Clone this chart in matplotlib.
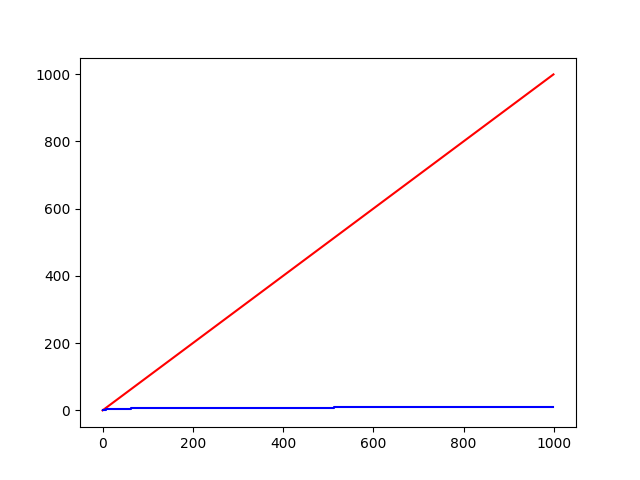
import matplotlib
matplotlib.use("Agg")
import matplotlib.pyplot as plt

# linear series
red_x = [0, 999]
red_y = [0, 999]

# step series (value changes at powers of two)
blue_x = [0, 1, 2, 4, 8, 16, 32, 64, 128, 256, 512, 999]
blue_y = [0, 0, 1, 2, 3, 4, 5, 6, 7, 8, 9, 9]

fig, ax = plt.subplots(figsize=(6.4, 4.8), dpi=100)
ax.plot(red_x, red_y, color="red")
ax.plot(blue_x, blue_y, color="blue", drawstyle="steps-post")

plt.savefig("out.png")
